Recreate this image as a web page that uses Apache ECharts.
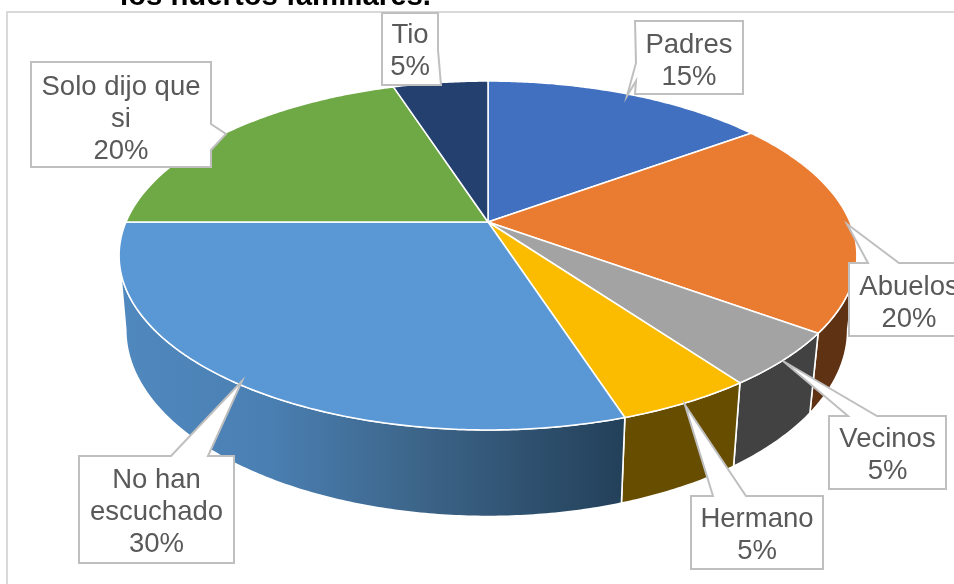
<!DOCTYPE html>
<html><head><meta charset="utf-8">
<style>html,body{margin:0;padding:0;background:#fff}#c{width:954px;height:584px}</style>
<script src="https://cdn.jsdelivr.net/npm/echarts@6/dist/echarts.min.js"></script>
</head><body><div id="c"></div>
<script>
var categories = ['Padres','Abuelos','Vecinos','Hermano','No han escuchado','Solo dijo que si','Tio'];
var shares = [15,20,5,5,30,20,5];
var topColors = ['#4170c0','#ea7c31','#a3a3a3','#fbbc00','#5997d5','#6fa946','#23406f'];
var titleText = 'los huertos familiares.';

// projection of the pie disc
var CX=488, CY=222, A=362, B=168, K=0.192, DEPTH=72, SY=1.07, SX_R=0.975, SX_L=0.982;
function topPt(t){var u=Math.sin(t),v=Math.cos(t),w=1+K*v;return [CX+A*u/w,CY-B*v/w];}
function botPt(t){var p=topPt(t),d=p[0]-CX;return [CX+(d<0?SX_L:SX_R)*d,CY+DEPTH+SY*(p[1]-CY)];}
var total=shares.reduce(function(a,b){return a+b;},0);
function angleOf(i){var s=0;for(var j=0;j<i;j++)s+=shares[j];return s/total*2*Math.PI;}
function arc(fn,a,b){var n=Math.max(2,Math.ceil(Math.abs(b-a)/0.01)),o=[];for(var i=0;i<=n;i++)o.push(fn(a+(b-a)*i/n));return o;}

var blueWall=new echarts.graphic.LinearGradient(118,0,625,0,[
  {offset:0,color:'#5089bf'},{offset:0.3,color:'#4a7fb2'},{offset:0.6,color:'#3c6488'},{offset:1,color:'#234059'}],true);
var wallFills=[null,'#5f3213','#424242','#664d00',blueWall,null,null];
// visible range of each wall, in degrees, clipped at the silhouette of the disc
var wallFrom=[0,101,0,0,0,0,0], wallTo=[0,0,0,0,259,0,0];

var callouts=[
 {box:[635,21,743,94],tip:[627,96],base:[[636,63],[636,81]],cy:61,lines:['Padres']},
 {box:[849,263,990,336],tip:[847,224],base:[[868,263],[899,263]],cy:303,cx:909,lines:['Abuelos']},
 {box:[829,416,946,489],tip:[783,361],base:[[848,416],[877,416]],cy:455,lines:['Vecinos']},
 {box:[691,496,823,569],tip:[685,405],base:[[713,496],[746,496]],cy:535,lines:['Hermano']},
 {box:[79,456,234,563],tip:[242,381],base:[[171,456],[208,456]],cy:512,lines:['No han','escuchado']},
 {box:[31,62,211,167],tip:[226,134],base:[[211,124],[211,150]],cy:119,lines:['Solo dijo que','si']},
 {box:[382,13,438,85],tip:[441,85],base:[[438,50],[438,85]],cy:51,lines:['Tio']}
];

function wallItem(params,api){
  var i=params.dataIndex, fill=wallFills[i];
  if(!fill) return;
  var a=angleOf(i), b=angleOf(i+1);
  if(wallFrom[i]) a=wallFrom[i]*Math.PI/180;
  if(wallTo[i]) b=wallTo[i]*Math.PI/180;
  var top=arc(topPt,a,b), bot=arc(botPt,a,b).reverse();
  return {type:'polygon',shape:{points:top.concat(bot)},style:{fill:fill,stroke:'#fff',lineWidth:1.6}};
}
function topItem(params,api){
  var i=params.dataIndex;
  var pts=[[CX,CY]].concat(arc(topPt,angleOf(i),angleOf(i+1)));
  return {type:'polygon',shape:{points:pts},style:{fill:topColors[i],stroke:'#fff',lineWidth:1.5,lineJoin:'round'}};
}
function calloutItem(params,api){
  var i=params.dataIndex,c=callouts[i],b=c.box,x0=b[0],y0=b[1],x1=b[2],y1=b[3],bx=c.base,pts;
  if(bx[0][1]===y0&&bx[1][1]===y0) pts=[[x0,y0],bx[0],c.tip,bx[1],[x1,y0],[x1,y1],[x0,y1]];
  else if(bx[0][0]===x1) pts=[[x0,y0],[x1,y0],bx[0],c.tip,bx[1],[x1,y1],[x0,y1]];
  else pts=[[x0,y0],[x1,y0],[x1,y1],[x0,y1],bx[1],c.tip,bx[0]];
  var text=c.lines.concat([shares[i]+'%']).join('\n');
  return {type:'group',children:[
    {type:'polygon',shape:{points:pts},style:{fill:'#fff',stroke:'#bfbfbf',lineWidth:2}},
    {type:'text',x:c.cx||(x0+x1)/2,y:c.cy,style:{text:text,fill:'#595959',font:'27.5px "Liberation Sans"',lineHeight:32,align:'center',verticalAlign:'middle'}}
  ]};
}
var rows=categories.map(function(n,i){return [i,shares[i],n];});
var chart=echarts.init(document.getElementById('c'),null,{renderer:'canvas'});
chart.setOption({
  animation:false,
  graphic:[
    {type:'polyline',z:0,shape:{points:[[7,584],[7,12],[954,12]]},style:{stroke:'#d9d9d9',lineWidth:2,fill:null}},
    {type:'text',z:5,x:120,y:11,style:{text:titleText,fill:'#000',font:'bold 29.3px "Liberation Sans"',align:'left',verticalAlign:'bottom'}}
  ],
  series:[
    {type:'custom',coordinateSystem:'none',z:2,silent:true,data:rows,renderItem:wallItem,clip:false},
    {type:'custom',coordinateSystem:'none',z:3,silent:true,data:rows,renderItem:topItem,clip:false},
    {type:'custom',coordinateSystem:'none',z:4,silent:true,data:rows,renderItem:calloutItem,clip:false}
  ]
});
</script></body></html>
